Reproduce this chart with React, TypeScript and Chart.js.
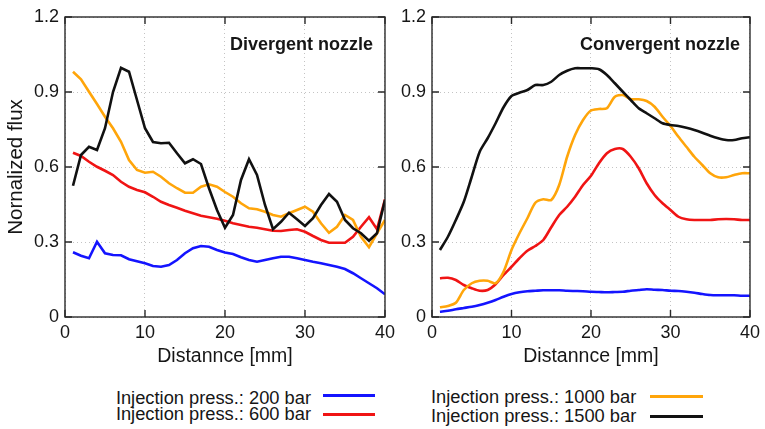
import React, { useEffect, useRef } from 'react';
import { Chart, registerables } from 'chart.js';

Chart.register(...registerables);

// ---------- data ----------
const DISTANCE = [1, 2, 3, 4, 5, 6, 7, 8, 9, 10, 11, 12, 13, 14, 15, 16, 17, 18, 19, 20,
  21, 22, 23, 24, 25, 26, 27, 28, 29, 30, 31, 32, 33, 34, 35, 36, 37, 38, 39, 40];
const X_TICKS = [0, 10, 20, 30, 40];
const Y_TICKS = [0, 0.3, 0.6, 0.9, 1.2];

const SERIES_LABELS = ['Injection press.: 200 bar', 'Injection press.: 600 bar', 'Injection press.: 1000 bar', 'Injection press.: 1500 bar'];

// Divergent nozzle
const DIV_200 = [0.259, 0.245, 0.235, 0.301, 0.255, 0.248, 0.247, 0.231, 0.223, 0.215, 0.204, 0.201, 0.208, 0.228, 0.255, 0.275, 0.284, 0.281, 0.268, 0.258,
  0.252, 0.239, 0.228, 0.221, 0.228, 0.235, 0.241, 0.241, 0.235, 0.228, 0.221, 0.215, 0.208, 0.201, 0.192, 0.175, 0.155, 0.135, 0.115, 0.091];
const DIV_600 = [0.657, 0.644, 0.621, 0.601, 0.585, 0.568, 0.541, 0.521, 0.508, 0.499, 0.481, 0.461, 0.448, 0.437, 0.425, 0.415, 0.405, 0.399, 0.393, 0.385,
  0.375, 0.368, 0.361, 0.357, 0.351, 0.345, 0.344, 0.348, 0.351, 0.341, 0.324, 0.308, 0.297, 0.297, 0.297, 0.321, 0.361, 0.399, 0.351, 0.471];
const DIV_1000 = [0.981, 0.951, 0.901, 0.852, 0.801, 0.755, 0.701, 0.628, 0.588, 0.577, 0.581, 0.561, 0.535, 0.515, 0.497, 0.497, 0.521, 0.531, 0.521, 0.5,
  0.481, 0.455, 0.435, 0.431, 0.421, 0.408, 0.401, 0.415, 0.428, 0.441, 0.421, 0.375, 0.337, 0.361, 0.408, 0.388, 0.321, 0.279, 0.335, 0.388];
const DIV_1500 = [0.525, 0.648, 0.681, 0.668, 0.755, 0.9, 0.997, 0.981, 0.868, 0.755, 0.7, 0.695, 0.697, 0.655, 0.615, 0.631, 0.612, 0.515, 0.428, 0.357,
  0.408, 0.548, 0.631, 0.568, 0.448, 0.351, 0.381, 0.417, 0.391, 0.364, 0.395, 0.448, 0.492, 0.461, 0.388, 0.355, 0.335, 0.305, 0.335, 0.468];

// Convergent nozzle
const CON_200 = [0.021, 0.025, 0.031, 0.036, 0.041, 0.048, 0.057, 0.068, 0.081, 0.092, 0.099, 0.103, 0.105, 0.107, 0.107, 0.107, 0.105, 0.104, 0.103, 0.101,
  0.1, 0.099, 0.1, 0.101, 0.105, 0.108, 0.111, 0.109, 0.108, 0.105, 0.104, 0.101, 0.097, 0.092, 0.088, 0.087, 0.087, 0.087, 0.085, 0.085];
const CON_600 = [0.155, 0.157, 0.148, 0.128, 0.115, 0.105, 0.108, 0.131, 0.168, 0.201, 0.235, 0.265, 0.284, 0.308, 0.359, 0.408, 0.441, 0.481, 0.528, 0.565,
  0.615, 0.655, 0.672, 0.672, 0.641, 0.595, 0.535, 0.488, 0.455, 0.428, 0.401, 0.391, 0.388, 0.388, 0.388, 0.391, 0.392, 0.391, 0.388, 0.388];
const CON_1000 = [0.039, 0.044, 0.057, 0.108, 0.135, 0.145, 0.145, 0.135, 0.181, 0.268, 0.335, 0.395, 0.457, 0.471, 0.468, 0.528, 0.641, 0.728, 0.788, 0.826,
  0.832, 0.835, 0.881, 0.888, 0.871, 0.871, 0.864, 0.841, 0.801, 0.764, 0.721, 0.681, 0.641, 0.608, 0.575, 0.559, 0.559, 0.568, 0.575, 0.575];
const CON_1500 = [0.268, 0.321, 0.388, 0.461, 0.561, 0.661, 0.715, 0.775, 0.839, 0.884, 0.897, 0.908, 0.928, 0.928, 0.941, 0.968, 0.985, 0.995, 0.995, 0.995,
  0.991, 0.968, 0.935, 0.901, 0.868, 0.835, 0.815, 0.795, 0.775, 0.768, 0.764, 0.757, 0.748, 0.737, 0.725, 0.715, 0.708, 0.708, 0.715, 0.719];

// ---------- styles ----------
const FONT = "'Liberation Sans', Arial, Helvetica, sans-serif";
const COLORS = ['#1414ff', '#f01414', '#ffa50a', '#111111'];
const TEXT = '#161616';

const framePlugin = {
  id: 'frameAndTitle',
  afterDraw(chart: any, _args: any, opts: any) {
    const { ctx, chartArea, scales } = chart;
    const { left, right, top, bottom } = chartArea;
    const xs = scales.x;
    const ys = scales.y;
    ctx.save();
    ctx.setLineDash([]);
    ctx.strokeStyle = '#2a2a2a';
    ctx.lineWidth = 1.4;
    ctx.strokeRect(left, top, right - left, bottom - top);
    const tl = 7;
    ctx.beginPath();
    X_TICKS.forEach((v) => {
      const p = xs.getPixelForValue(v);
      ctx.moveTo(p, top); ctx.lineTo(p, top + tl);
      ctx.moveTo(p, bottom); ctx.lineTo(p, bottom - tl);
    });
    Y_TICKS.forEach((v) => {
      const p = ys.getPixelForValue(v);
      ctx.moveTo(left, p); ctx.lineTo(left + tl, p);
      ctx.moveTo(right, p); ctx.lineTo(right - tl, p);
    });
    ctx.stroke();
    ctx.fillStyle = TEXT;
    ctx.font = `bold 18px ${FONT}`;
    ctx.textAlign = 'right';
    ctx.textBaseline = 'alphabetic';
    ctx.fillText(opts.text, right - opts.inset, top + 33);
    ctx.restore();
  },
};

type PanelProps = {
  left: number;
  width: number;
  yWidth: number;
  padRight: number;
  title: string;
  titleInset: number;
  showYTitle: boolean;
  values: number[][];
  tension: number;
};

function Panel(p: PanelProps) {
  const ref = useRef<HTMLCanvasElement>(null);
  useEffect(() => {
    const order = [3, 2, 1, 0];
    const chart = new Chart(ref.current as HTMLCanvasElement, {
      type: 'line',
      data: {
        labels: DISTANCE,
        datasets: order.map((i) => ({
          label: SERIES_LABELS[i],
          data: DISTANCE.map((d, k) => ({ x: d, y: p.values[i][k] })),
          borderColor: COLORS[i],
          backgroundColor: COLORS[i],
          borderWidth: 2.6,
          pointRadius: 0,
          tension: p.tension,
          fill: false,
        })),
      },
      options: {
        animation: false,
        responsive: false,
        layout: { padding: { left: 0, top: 17, right: p.padRight, bottom: 0 } },
        plugins: {
          legend: { display: false },
          tooltip: { enabled: false },
          frameAndTitle: { text: p.title, inset: p.titleInset },
        } as any,
        scales: {
          x: {
            type: 'linear',
            min: 0,
            max: 40,
            afterBuildTicks: (s: any) => { s.ticks = X_TICKS.map((v) => ({ value: v })); },
            afterFit: (s: any) => { s.height = 58; },
            grid: { color: '#c4c4c4', lineWidth: 1, drawTicks: false },
            border: { display: false, dash: [1, 3] },
            ticks: { font: { size: 18, family: FONT }, color: TEXT, padding: 5, maxRotation: 0, autoSkip: false },
            title: { display: true, text: 'Distannce [mm]', font: { size: 19.5, family: FONT }, color: TEXT, padding: { top: 0, bottom: 7 } },
          },
          y: {
            type: 'linear',
            min: 0,
            max: 1.2,
            afterBuildTicks: (s: any) => { s.ticks = Y_TICKS.map((v) => ({ value: v })); },
            afterFit: (s: any) => { s.width = p.yWidth; },
            grid: { color: '#c4c4c4', lineWidth: 1, drawTicks: false },
            border: { display: false, dash: [1, 3] },
            ticks: { font: { size: 18, family: FONT }, color: TEXT, padding: 6 },
            title: { display: p.showYTitle, text: 'Nornalized flux', font: { size: 20.5, family: FONT }, color: TEXT, padding: { top: 4, bottom: 0 } },
          },
        },
      },
      plugins: [framePlugin],
    } as any);
    return () => chart.destroy();
  }, []);
  return (
    <div style={{ position: 'absolute', left: p.left, top: 0, width: p.width, height: 375 }}>
      <canvas ref={ref} width={p.width} height={375} style={{ display: 'block' }} />
    </div>
  );
}

type LegendRow = { label: string; color: string; textLeft?: number; textRight?: number; textTop: number; lineX: number; lineW: number; lineY: number };

function Legend({ rows }: { rows: LegendRow[] }) {
  return (
    <>
      {rows.map((r) => (
        <React.Fragment key={r.label}>
          <div
            style={{
              position: 'absolute',
              top: r.textTop,
              left: r.textLeft,
              right: r.textRight !== undefined ? 765 - r.textRight : undefined,
              font: `18.3px/18px ${FONT}`,
              color: TEXT,
              whiteSpace: 'nowrap',
            }}
          >
            {r.label}
          </div>
          <div style={{ position: 'absolute', left: r.lineX, top: r.lineY - 1.5, width: r.lineW, height: 3, background: r.color }} />
        </React.Fragment>
      ))}
    </>
  );
}

export default function App() {
  const rows: LegendRow[] = [
    { label: SERIES_LABELS[0], color: COLORS[0], textRight: 311, textTop: 389, lineX: 323, lineW: 52, lineY: 395 },
    { label: SERIES_LABELS[1], color: COLORS[1], textRight: 311, textTop: 405, lineX: 323, lineW: 52, lineY: 414 },
    { label: SERIES_LABELS[2], color: COLORS[2], textLeft: 431, textTop: 388, lineX: 650, lineW: 53, lineY: 396 },
    { label: SERIES_LABELS[3], color: COLORS[3], textLeft: 431, textTop: 406.5, lineX: 650, lineW: 53, lineY: 416 },
  ];
  return (
    <div style={{ position: 'fixed', left: 0, top: 0, width: 765, height: 429, background: '#ffffff', overflow: 'hidden' }}>
      <Panel left={0} width={400} yWidth={65} padRight={15} title="Divergent nozzle" titleInset={12} showYTitle={true}
        values={[DIV_200, DIV_600, DIV_1000, DIV_1500]} tension={0} />
      <Panel left={390} width={375} yWidth={42} padRight={13} title="Convergent nozzle" titleInset={10} showYTitle={false}
        values={[CON_200, CON_600, CON_1000, CON_1500]} tension={0.25} />
      <Legend rows={rows} />
    </div>
  );
}
